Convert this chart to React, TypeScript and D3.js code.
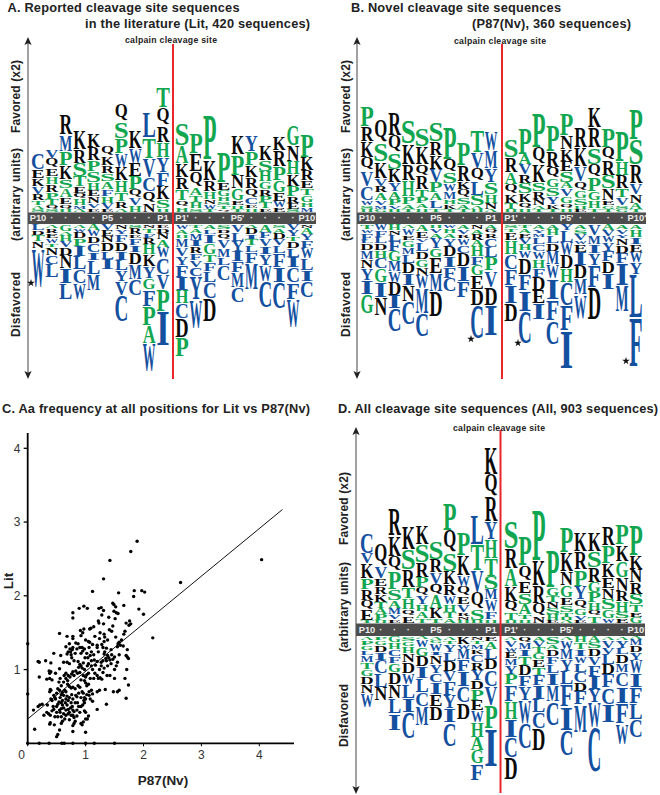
import React from "react";
import * as d3 from "d3";

// ---------- data: stacks of "letter + weight"; favored listed top→bar, disfavored listed bar→bottom ----------
const tickLabels = ["P10","·","·","·","·","P5","·","·","·","P1","P1'","·","·","·","P5'","·","·","·","·","P10'"];

const aUp = [
  "C15 E8 K7 V7 R5 T4 A3 S2","V8 Q9 E7 H7 R7 P6 T5 Q3 S2","R20 M16 P13 K13 S8 A8 E6 Q4 H2","K18 R13 S12 T9 E6 Q5 H5 M3 A2",
  "K13 R12 P10 S10 H7 E5 N6 V4 E3","Q9 K8 R7 S7 A7 F6 H6 V5 E2","Q16 S16 P14 W13 K12 H11 T8 R6 A3","K17 W14 E12 P12 Q7 V7 H6",
  "L24 T20 V18 C13 Q11 N8","T19 Q17 R16 H14 Y14 F13 K12 S8 H3","S21 A17 K13 R11 T10 Q6 H4","P20 E17 Q15 A7 T6 H5 S3",
  "P43 K20 R10 H7 N4 W4 T2","P30 E7 G5 H4 S3 T3 Q2","K18 P20 N12 G11 E4 H3 T2","Y15 P13 K11 R10 Q8 C6 E3 H3",
  "K14 S10 H9 G7 R6 P5 T5 E3","K13 R15 P13 G11 E8 W5 E4","G19 N15 H12 K11 P9 R6 E5 S2","P22 K12 R9 E7 T6 G6 H4 M4",
];
const aDown = [
  "L5 D4 T5 N6 W37","A3 R4 E4 W4 T3 N7 C8 L12","G6 A3 H5 V5 D7 N12 I14 L15","A3 W3 D5 P7 I9 L12 C13 W15",
  "A5 W5 D6 C8 I7 L13 M15","V5 E5 N5 D8 L7 I9","N4 Y4 F7 D8 I8 L9 Y10 V13 C25","S3 R5 E3 F6 I6 D11 M14 C15",
  "N3 T4 F4 R5 H9 K11 Y11 G10 F16 P18 A17 W26","E3 D4 N5 A7 W9 C16 V14 P21 I33","W4 A4 H3 M8 V8 Y8 F11 I12 H12 C14 D18 P18","T3 A4 M6 I5 R6 F6 V6 C8 Y22 W27",
  "A4 L4 I8 G10 T7 F8 L10 C15 D22","S4 D3 Q5 V8 M8 L7 C14","V7 L8 Y9 I9 F10 M14 C14","A3 D5 I4 T5 L6 F10 M25",
  "A7 F5 V7 I7 Y10 W15 C25","S3 A4 D5 V5 L7 F13 I14 C25","V5 Y5 T4 D6 L8 I9 C14 F16 W26","N3 A5 Y5 F7 W9 L11 I10 C15",
];
const bUp = [
  "P19 R14 K15 Q13 V14 C13 W4 S3 H2","Q22 S17 K16 V7 R5 A7 V4 M3 G2","R22 Q16 S16 K12 Y8 A7 P5 V3 H2","S22 K20 R15 H15 P7 A4 T2",
  "S17 K17 Q11 R12 T7 P5 A4 H3","S18 R13 K13 V12 P9 A7 L7 T3","P31 Q12 S10 W7 M7 H4 K4 T2","P22 R15 K7 Q7 S6 A4 T2",
  "T21 V15 Q12 L13 S9 A3 H2","W18 M17 Y13 S11 H8 N5 A2","S17 R14 A11 Q9 K8 T5 H2","P25 A9 V9 R8 S9 K8 Q6 H2",
  "P33 Q16 K17 S8 R7 N5 A3 T2","P25 R15 Q10 G8 S8 Y7 K4 T2","P21 N13 K11 E9 S10 A5 V7 G6 Q4 H3","R19 K18 V14 Q8 G7 S6 H3 E2",
  "K20 R19 S16 Q12 P13 G8 H7 T3","P18 Q12 R14 S12 N11 E4 G3 T2","P29 H13 R12 T8 V7 S3 G2","P30 S24 R18 V10 N8 A5 T2",
];
const bDown = [
  "T4 W3 F6 L2 D6 M8 N8 Y11 I13 G18","W5 F6 L5 D6 H7 C9 G13 I14 N17","H5 N4 L5 F9 G9 M9 W10 D12 I12 C22","A3 W6 E4 G6 M6 L8 D9 I11 N15 C22",
  "A6 E6 V3 L8 D7 G7 N7 W12 M24 C22","H3 V4 A4 Y9 G8 E15 M17 D24","W3 H4 A4 Y7 D9 I10 F10 C12","A4 V4 R3 W6 C7 D12 I14 F15",
  "N4 A4 R5 A5 H9 F8 G9 E13 D15 C32","A4 Q3 R4 C8 L9 P12 V16 D17 I29","S3 T3 E7 H13 C14 F15 I17 D17","T3 A4 E4 V5 H5 W7 D15 F15 I20 C31",
  "A4 Y3 M3 L6 C6 W7 H8 F8 D12 E12 I15","A4 H5 L7 D7 M12 W13 I20 F20 C23","Y5 L11 W12 D12 H13 C22 F24 I37","A4 S4 V5 W3 E7 I12 D12 M15 W23",
  "V10 M8 I8 Y11 F21 D31","A5 V5 W5 Y8 F9 D11 I15","A4 V4 Y3 N6 D7 F9 I21 M25","A4 H7 I6 E7 W9 Y11 L42 F48",
];
const dUp = [
  "C20 V9 K14 P10 R10 Q9 E9 T2","Q21 V11 E7 R7 K7 T5 A5 P5 H2","R26 K20 Q14 P17 S10 A7 M5 V4 E3","K22 S19 R17 T10 H10 Q6 E6",
  "K18 S17 R14 P9 Q7 Y8 H6 A6 T4","S17 R12 V11 Q10 A12 K9 T4","P27 Q22 S17 K12 R10 W8 H7 T5 A4","P22 K19 W10 Q9 E7 V7 R3 N3 H2",
  "L28 T25 V21 Q16 S10 H2","K26 Q21 R24 Y17 H18 T17 S12 M9 W11 F7 H3","S26 R19 A17 K14 Q10 T7 H2","P28 Q15 E11 S10 A9 T4 H3",
  "P49 K24 R17 Q12 N6","P37 G8 T5 N5 S5 H5 E2","P24 K18 N13 G11 E7 S6 T4 H2 A2","K18 R17 P16 Y12 Q8 G6 V4 E2",
  "K18 S15 R14 G9 P9 H7 Q5 T6","R18 P17 K13 E10 N10 S9 G8 W4","P19 K16 G15 N13 R9 H10 S5 E4","P29 K13 N12 R11 S9 T7 E4 G5",
];
const dDown = [
  "A3 P4 G4 L4 M6 T6 G6 D7 N8 W13","P3 G4 D6 I7 C12 L13 N12","G5 H6 C6 F6 G8 D11 N13 L14 I16","S4 G4 H6 N8 D10 W10 L13 I13 C25",
  "A2 W7 G8 D9 I11 L13 C13 M18","A3 G2 W7 I3 N8 Y8 C8 I11 E11 D13","A3 T3 Y7 L8 D9 V9 F13 Y12 I13 C23","K7 W4 M9 F11 I14 C15 D16",
  "N3 T3 M4 K4 C7 R7 Y9 D8 P10 E9 W11 H14 A12 G12 F16","E4 A7 L9 D9 C16 V18 P22 I37","A3 V6 W4 E5 M6 Y8 P9 F16 H17 I17 C19 D21","Q5 M6 I6 T8 D9 F10 Y13 W22 C24",
  "A4 V5 T5 G5 E7 T7 F9 I13 L12 C15 D21","S7 A4 D6 F7 L8 I11 M15 C23","A3 W8 M9 Y11 L12 F21 I23 C24","H5 T6 I6 W6 L8 C9 D8 F12 M27",
  "A5 S5 D7 V8 F10 I12 Y12 W24 C43","A3 V7 V5 L9 D9 F12 C16 I17","A3 Y7 L5 D8 M8 C13 I16 F19 W20","A2 M5 D6 Y7 W12 I13 F15 L15 C17",
];

const xTicks = [0, 1, 2, 3, 4];
const yTicks = [1, 2, 3, 4];
const fitLine: [number, number][] = [[0, 0.33], [4.4, 3.17]];
const scatter: [number, number][] = [
  [4.04,2.49],[2.64,2.18],[2.16,1.43],[1.89,2.74],[1.78,2.6],[1.42,2.48],[1.31,2.23],[1.12,2.06],[1.57,2.04],[1.84,2.07],[1.97,2.07],[2.02,2.05],[1.83,1.99],[1.92,1.82],[2,1.75],[1.66,1.87],
  [0.78,1.77],[0.78,1.7],[0.89,1.83],[0.97,1.86],[1.03,1.83],[1.23,1.83],[1.27,1.84],[1.31,1.8],[1.28,1.74],[1.49,1.88],[1.47,1.9],[1.52,1.85],[1.49,1.79],[1.53,1.77],[1.56,1.76],[1.51,1.69],
  [1.22,1.66],[1.23,1.63],[1.31,1.62],[1.4,1.71],[1.47,1.59],[1.41,1.54],[1.45,1.52],[1.25,1.5],[1.33,1.44],[1.14,1.58],[1.07,1.55],[1.09,1.56],[0.91,1.53],[0.97,1.55],[1.7,1.63],[1.76,1.66],[1.78,1.62],[1.75,1.6],[1.68,1.52],[1.66,1.48],[0.55,1.49],[0.95,1.5],
  [0.68,1.45],[0.78,1.45],[0.78,1.42],[0.92,1.46],[1,1.4],[1.05,1.38],[1.07,1.37],[0.83,1.36],[0.87,1.35],[0.9,1.3],[0.72,1.35],[0.78,1.3],[0.73,1.28],[0.77,1.27],[0.94,1.3],[0.98,1.28],[1.06,1.3],[1.2,1.33],[1.2,1.3],[1.28,1.34],[1.3,1.3],[1.32,1.38],[1.36,1.29],[1.56,1.35],[1.58,1.37],[1.6,1.33],[1.65,1.32],[1.72,1.27],[1.55,1.31],
  [0.45,1.22],[0.57,1.19],[0.68,1.21],[0.74,1.24],[0.75,1.2],[0.82,1.22],[0.95,1.25],[1.02,1.22],[1.1,1.24],[1.14,1.2],[1.22,1.24],[1.32,1.21],[1.33,1.24],[1.38,1.19],[1.35,1.15],[1.4,1.16],[1.45,1.2],[1.5,1.17],[1.58,1.2],[1.7,1.19],[1.72,1.17],[1.74,1.15],
  [0.18,1.11],[0.2,1.1],[0.31,1.12],[0.4,1.09],[0.62,1.1],[0.68,1.1],[0.72,1.08],[0.76,1.16],[0.8,1.12],[0.87,1.11],[0.9,1.07],[0.96,1.09],[1.05,1.08],[1.1,1.12],[1.15,1.13],[1.2,1.11],[1.27,1.1],[1.3,1.12],[1.36,1.12],[1.42,1.13],[1.47,1.14],[1.55,1.1],
  [0.37,0.98],[0.38,0.95],[0.4,0.97],[0.2,0.9],[0.38,0.88],[0.42,0.86],[0.33,0.87],[0.48,0.95],[0.55,1.01],[0.56,0.88],[0.63,0.92],[0.66,0.95],[0.7,0.92],[0.73,0.9],[0.76,0.94],[0.78,0.97],[0.8,0.92],[0.83,0.98],[0.88,1.03],[0.92,1.05],[0.94,1.02],[0.98,1],[1.02,0.93],[1,0.9],[1.05,0.95],[1.1,1.05],[1.12,1],[1.16,0.95],[1.2,0.92],[1.22,0.88],[1.25,0.89],[1.28,0.87],[1.27,1.05],[1.32,1.02],[1.37,0.92],[1.42,0.92],[1.5,1],[1.53,1.05],[1.71,1],[1.68,0.88],[1.5,0.88],
  [0.39,0.73],[0.38,0.7],[0.4,0.72],[0.45,0.65],[0.47,0.62],[0.48,0.6],[0.52,0.74],[0.54,0.83],[0.58,0.66],[0.6,0.69],[0.62,0.65],[0.64,0.72],[0.66,0.7],[0.69,0.8],[0.69,0.85],[0.72,0.77],[0.75,0.75],[0.78,0.76],[0.82,0.74],[0.87,0.78],[0.9,0.76],[0.94,0.7],[0.96,0.68],[0.85,0.63],[0.83,0.65],[0.78,0.6],[1,0.82],[1.02,0.78],[1.05,0.8],[1.06,0.7],[1.02,0.66],[1.06,0.65],[1.1,0.72],[1.12,0.67],[1.2,0.7],[1.24,0.72],[1.34,0.73],[1.48,0.7],[1.55,0.7],[1.58,0.72],[1.7,0.61],[1.74,0.79],
  [0.1,0.45],[0.18,0.5],[0.21,0.52],[0.25,0.53],[0.28,0.38],[0.4,0.6],[0.42,0.58],[0.36,0.4],[0.33,0.42],[0.39,0.38],[0.45,0.46],[0.47,0.36],[0.5,0.5],[0.52,0.53],[0.54,0.56],[0.55,0.45],[0.56,0.42],[0.58,0.55],[0.6,0.52],[0.62,0.48],[0.62,0.4],[0.64,0.33],[0.65,0.55],[0.68,0.52],[0.7,0.58],[0.7,0.4],[0.72,0.42],[0.75,0.38],[0.75,0.55],[0.77,0.5],[0.78,0.45],[0.8,0.43],[0.8,0.35],[0.82,0.55],[0.85,0.37],[0.88,0.5],[0.92,0.5],[0.95,0.52],[0.97,0.58],[0.98,0.55],[1,0.42],[1.03,0.33],[1.05,0.37],[1.12,0.57],[1.2,0.46],[1.36,0.53],
  [0.12,0.19],[0.38,0.26],[0.39,0.28],[0.46,0.25],[0.55,0.18],[0.52,0.12],[0.5,0.09],[0.58,0.27],[0.6,0.3],[0.78,0.16],[0.78,0.24],[0.8,0.27],[0.92,0.27],[0.94,0.25],[0.96,0.29],[1,0.15],[1,0.33],
  [0,0],[0.2,0],[0.37,0],[0.59,0],[0.63,0],[0.78,0],[1,0],[1.15,0],[1.5,0],[0,1.35],[0,0.67],
  [0.66,1.31],[0.7,1.24],[0.85,1.28],[0.92,1.22],[0.99,1.16],[1.04,1.16],[1.08,1.19],[1.17,1.06],[1.24,1],[1.3,0.96],[1.38,1.05],[1.44,1.08],[0.86,0.95],[0.9,0.96],[0.92,0.86],[0.96,0.92],[1.08,0.88],[1.14,0.88],[1.03,1.05],[0.98,0.85],[0.62,0.83],[0.66,0.88],[0.58,0.78],[0.5,0.68],[0.55,0.72],[0.68,0.64],[0.72,0.62],[0.76,0.66],[0.88,0.68],[0.92,0.62],[0.98,0.62],[1,0.6],[1.08,0.6],[0.56,0.62],[0.6,0.58],[0.66,0.6],[0.74,0.48],[0.7,0.46],[0.66,0.45],[0.58,0.47],[0.85,0.45],[0.86,0.55],[0.9,0.42],[0.78,0.38],[0.82,0.3],[0.98,0.44],[0.44,0.5],[0.42,0.44],[0.34,0.52],[0.5,0.42],[0.52,0.36],[0.58,0.36],[0.66,0.38],[0.72,0.32],[1.44,1.27],[1.32,1.48],[1.24,1.42],[1.16,1.45],[1.12,1.34],[1.52,1.44],[1.62,1.4],[1.38,1.4],
];

// ---------- layout ----------
const SANS = "'Liberation Sans', Arial, sans-serif";
const SERIF = "'Liberation Serif', 'Times New Roman', serif";
const GREEN = "#12a650", BLUE = "#1450a0", BLACK = "#0a0a0a";
const colorOf = (c: string) => ("AGHPST".includes(c) ? GREEN : "CFILMVWY".includes(c) ? BLUE : BLACK);
const inkW: Record<string, number> = { A:.70,C:.65,D:.67,E:.62,F:.57,G:.74,H:.74,I:.36,K:.75,L:.62,M:.90,N:.70,P:.56,Q:.74,R:.71,S:.46,T:.61,V:.70,W:.98,Y:.70 };
const parse = (s: string) => s.split(" ").map((t) => ({ c: t[0], v: +t.slice(1) }));
const unit = d3.scaleLinear().domain([0, 100]).range([0, 100]);
const GAP = 1;

function Glyph({ c, cx, top, h, w }: { c: string; cx: number; top: number; h: number; w: number }) {
  const desc = c === "Q" ? 0.2 : 0;
  const sy = h / ((0.665 + desc) * 100);
  const sx = w / (inkW[c] * 100);
  return (
    <text transform={`translate(${cx},${top + h - desc * 100 * sy}) scale(${sx},${sy})`} fontFamily={SERIF} fontWeight={700} fontSize={100} textAnchor="middle" fill={colorOf(c)}>{c}</text>
  );
}

type PanelCfg = {
  up: string[]; down: string[]; axisX: number; redX: number; barTop: number; barBottom: number; barX0: number; barX1: number;
  left: [number, number]; right: [number, number]; axisTop: number; axisBottom: number; redTop: number; redBottom: number;
  calX: number; calY: number; labelX: number; fav: [number, number]; arb: [number, number]; dis: [number, number]; stars: [number, number][];
};

function Logo({ p }: { p: PanelCfg }) {
  const xL = d3.scaleLinear().domain([0, 9]).range(p.left);
  const xR = d3.scaleLinear().domain([10, 19]).range(p.right);
  const xOf = (i: number) => (i < 10 ? xL(i) : xR(i));
  const star = d3.symbol(d3.symbolStar, 18)() as string;
  const side = (t: string, [a, b]: [number, number]) => (
    <text transform={`translate(${p.labelX},${(a + b) / 2}) rotate(-90)`} textAnchor="middle" textLength={b - a} lengthAdjust="spacing" fontFamily={SANS} fontWeight={700} fontSize={12} fill="#222">{t}</text>
  );
  return (
    <g>
      {p.up.map((s, i) => {
        let y = p.barTop;
        return parse(s).reverse().map((l, j) => {
          const h = unit(l.v);
          y -= h + GAP;
          return <Glyph key={`u${i}-${j}`} c={l.c} cx={xOf(i)} top={y} h={h} w={12.4} />;
        });
      })}
      {p.down.map((s, i) => {
        let y = p.barBottom + 1;
        return parse(s).map((l, j) => {
          const h = unit(l.v);
          const top = y;
          y += h + GAP;
          return <Glyph key={`d${i}-${j}`} c={l.c} cx={xOf(i)} top={top} h={h} w={12.4} />;
        });
      })}
      <rect x={p.barX0} y={p.barTop} width={p.barX1 - p.barX0} height={p.barBottom - p.barTop} fill="#4d4d4d" />
      {tickLabels.map((t, i) => (
        <text key={i} x={xOf(i) + (t === "P10'" ? 1 : 0)} y={p.barBottom - 2.6} textAnchor="middle" fontFamily={SANS} fontWeight={700} fontSize={9.3} fill="#eee">{t}</text>
      ))}
      <line x1={p.axisX} x2={p.axisX} y1={p.axisTop + 6} y2={p.axisBottom - 6} stroke="#555" strokeWidth={1.1} />
      <path d={`M${p.axisX},${p.axisTop} L${p.axisX + 3.6},${p.axisTop + 8} L${p.axisX},${p.axisTop + 6.2} L${p.axisX - 3.6},${p.axisTop + 8} Z`} fill="#222" />
      <path d={`M${p.axisX},${p.axisBottom} L${p.axisX + 3.6},${p.axisBottom - 8} L${p.axisX},${p.axisBottom - 6.2} L${p.axisX - 3.6},${p.axisBottom - 8} Z`} fill="#222" />
      <line x1={p.redX} x2={p.redX} y1={p.redTop} y2={p.redBottom} stroke="#e8262b" strokeWidth={2} />
      <text x={p.calX} y={p.calY} textAnchor="middle" textLength={92} lengthAdjust="spacing" fontFamily={SANS} fontWeight={700} fontSize={8.7} fill="#222">calpain cleavage site</text>
      {side("Favored (x2)", p.fav)}
      {side("(arbitrary units)", p.arb)}
      {side("Disfavored", p.dis)}
      {p.stars.map(([x, y], i) => <path key={i} d={star} transform={`translate(${x},${y})`} fill="#111" />)}
    </g>
  );
}

const panelA: PanelCfg = { up: aUp, down: aDown, axisX: 28, redX: 173, barTop: 212.5, barBottom: 224, barX0: 28, barX1: 316, left: [38, 163], right: [182, 307], axisTop: 37, axisBottom: 379, redTop: 44, redBottom: 379, calX: 171, calY: 43, labelX: 20, fav: [60, 133], arb: [148, 241], dis: [272, 337], stars: [[31, 283]] };
const panelB: PanelCfg = { up: bUp, down: bDown, axisX: 357, redX: 502, barTop: 212.5, barBottom: 224, barX0: 357, barX1: 646, left: [367, 491], right: [511, 636], axisTop: 37, axisBottom: 379, redTop: 44, redBottom: 379, calX: 500, calY: 44, labelX: 350, fav: [60, 133], arb: [148, 241], dis: [272, 337], stars: [[471, 339], [518, 343], [626, 361]] };
const panelD: PanelCfg = { up: dUp, down: dDown, axisX: 356, redX: 500.5, barTop: 623.5, barBottom: 636, barX0: 356, barX1: 645, left: [367, 491], right: [511, 636], axisTop: 427, axisBottom: 794, redTop: 430, redBottom: 793, calX: 499, calY: 431, labelX: 348, fav: [472, 545], arb: [562, 652], dis: [684, 747], stars: [] };

const titles: [string, number, number, number][] = [
  ["A. Reported cleavage site sequences", 7.5, 239.5, 12],
  ["in the literature (Lit, 420 sequences)", 85, 310, 28],
  ["B. Novel cleavage site sequences", 351, 561, 12],
  ["(P87(Nv), 360 sequences)", 472, 631, 28],
  ["C. Aa frequency at all positions for Lit vs P87(Nv)", 2, 310, 413],
  ["D. All cleavage site sequences (All, 903 sequences)", 338, 658, 413],
];

function Scatter() {
  const x = d3.scaleLinear().domain([0, 4]).range([27.7, 259.3]);
  const y = d3.scaleLinear().domain([0, 4]).range([743.3, 448.3]);
  const line = d3.line<[number, number]>().x((d) => x(d[0])).y((d) => y(d[1]));
  return (
    <g>
      <line x1={x(0)} x2={x(0)} y1={433} y2={744} stroke="#000" strokeWidth={1.8} />
      <line x1={x(0) - 1} x2={294} y1={y(0)} y2={y(0)} stroke="#000" strokeWidth={1.8} />
      {yTicks.map((t) => (
        <g key={t}>
          <line x1={x(0) - 4} x2={x(0)} y1={y(t)} y2={y(t)} stroke="#000" strokeWidth={1.3} />
          <text x={17} y={y(t) + 4.2} textAnchor="middle" fontFamily={SANS} fontSize={12} fill="#333">{t}</text>
        </g>
      ))}
      {xTicks.map((t) => (
        <g key={t}>
          <line x1={x(t)} x2={x(t)} y1={y(0)} y2={y(0) + 3} stroke="#000" strokeWidth={1} />
          <text x={t === 0 ? 21.7 : x(t)} y={759} textAnchor="middle" fontFamily={SANS} fontSize={12} fill="#333">{t}</text>
        </g>
      ))}
      <path d={line(fitLine) as string} fill="none" stroke="#111" strokeWidth={1} />
      {scatter.map((d, i) => <circle key={i} cx={x(d[0])} cy={y(d[1])} r={1.7} fill="#000" />)}
      <text x={163} y={785} textAnchor="middle" fontFamily={SANS} fontWeight={700} fontSize={13.5} fill="#222">P87(Nv)</text>
      <text transform="translate(13,581) rotate(-90)" textAnchor="middle" fontFamily={SANS} fontWeight={700} fontSize={13.5} fill="#222">Lit</text>
    </g>
  );
}

export default function App() {
  return (
    <svg width={660} height={795} viewBox="0 0 660 795" style={{ position: "absolute", left: 0, top: 0, background: "#fff" }}>
      {titles.map(([t, a, b, y], i) => (
        <text key={i} x={a} y={y} textLength={b - a} lengthAdjust="spacing" fontFamily={SANS} fontWeight={700} fontSize={12.8} fill="#222">{t}</text>
      ))}
      <Logo p={panelA} />
      <Logo p={panelB} />
      <Logo p={panelD} />
      <Scatter />
    </svg>
  );
}
